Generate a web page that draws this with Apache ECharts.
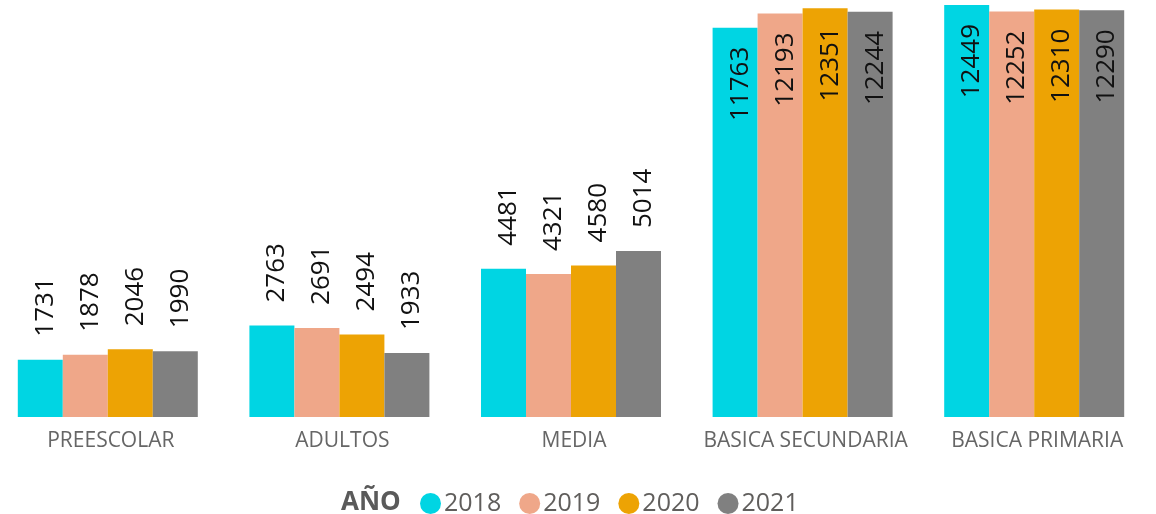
<!DOCTYPE html>
<html>
<head>
<meta charset="utf-8">
<script src="https://cdn.jsdelivr.net/npm/echarts@6/dist/echarts.min.js"></script>
<style>
html,body{margin:0;padding:0;background:#fff;}
#c{width:1156px;height:514px;}
</style>
</head>
<body>
<div id="c"></div>
<script>
const categories = ['PREESCOLAR', 'ADULTOS', 'MEDIA', 'BASICA SECUNDARIA', 'BASICA PRIMARIA'];
const seriesNames = ['2018', '2019', '2020', '2021'];
const v2018 = [1731, 2763, 4481, 11763, 12449];
const v2019 = [1878, 2691, 4321, 12193, 12252];
const v2020 = [2046, 2494, 4580, 12351, 12310];
const v2021 = [1990, 1933, 5014, 12244, 12290];
const colors = ['#00D5E3', '#EFA789', '#EDA304', '#808080'];

const allValues = [v2018, v2019, v2020, v2021];

function makeData(vals) {
  return vals.map(function (v) {
    const inside = v > 8000;
    return {
      value: v,
      label: inside
        ? { position: 'insideTop', align: 'right', verticalAlign: 'middle', distance: 19 }
        : { position: 'top', align: 'left', verticalAlign: 'middle', distance: 23 }
    };
  });
}

const chart = echarts.init(document.getElementById('c'));
chart.setOption({
  animation: false,
  title: {
    text: 'AÑO',
    left: 336,
    top: 485,
    textStyle: { fontFamily: 'Open Sans', fontWeight: 'bold', fontSize: 26, color: '#5a5a5a' }
  },
  legend: {
    data: seriesNames,
    left: 415,
    top: 486,
    icon: 'circle',
    itemWidth: 21,
    itemHeight: 21,
    itemGap: 18,
    textStyle: { fontFamily: 'Open Sans', fontSize: 25, color: '#605E5C', padding: [0, 0, 0, -2] }
  },
  grid: { left: -8, right: 6, top: 0, bottom: 97, containLabel: false, outerBoundsMode: 'none' },
  xAxis: {
    type: 'category',
    data: categories,
    axisLine: { show: false },
    axisTick: { show: false },
    axisLabel: { interval: 0, fontFamily: 'Open Sans', fontSize: 21, color: '#666666', margin: 14, padding: [0, 0, 0, 6], hideOverlap: false }
  },
  yAxis: {
    type: 'value',
    min: 0,
    max: 12600,
    show: false,
    splitLine: { show: false }
  },
  series: seriesNames.map(function (name, i) {
    return {
      name: name,
      type: 'bar',
      barWidth: 45,
      barGap: '0%',
      itemStyle: { color: colors[i] },
      label: {
        show: true,
        rotate: 90,
        fontFamily: 'Open Sans',
        fontSize: 26,
        color: '#111111',
        offset: [0, 5]
      },
      data: makeData(allValues[i])
    };
  })
});
</script>
</body>
</html>
